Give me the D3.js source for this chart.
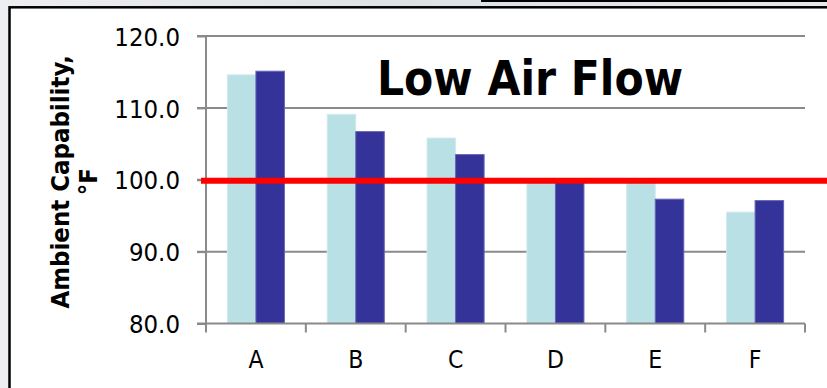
<!DOCTYPE html>
<html>
<head>
<meta charset="utf-8">
<script src="https://cdn.jsdelivr.net/npm/d3@7"></script>
<style>
  html, body { margin: 0; padding: 0; background: #e3e5e9; }
  svg { display: block; }
  text { font-family: "DejaVu Sans Condensed", "DejaVu Sans", sans-serif; font-stretch: condensed; }
</style>
</head>
<body>
<svg id="chart" width="827" height="388"></svg>
<script>
// Ambient capability by unit, two test conditions per unit
const categories = ["A", "B", "C", "D", "E", "F"];
const seriesNames = ["Condition 1", "Condition 2"];
const condition1 = [114.6, 109.1, 105.8, 100.0, 99.8, 95.5];
const condition2 = [115.1, 106.7, 103.5, 99.9, 97.3, 97.1];
const yTicks = [80, 90, 100, 110, 120];
const threshold = 100;
const title = "Low Air Flow";
const yTitleLines = ["Ambient Capability,", "°F"];

const colors = ["#b9e0e4", "#333399"];
const strokes = ["#d2eaed", "#6464b8"];

const W = 827, H = 388;
const plot = { left: 206, right: 805, top: 36, bottom: 323.5 };

const svg = d3.select("#chart");

// page background outside the chart panel
const bgGrad = svg.append("defs").append("linearGradient")
  .attr("id", "bgfade").attr("x1", 0).attr("y1", 0).attr("x2", 1).attr("y2", 0);
bgGrad.append("stop").attr("offset", "0%").attr("stop-color", "#eceef1");
bgGrad.append("stop").attr("offset", "50%").attr("stop-color", "#dde0e5");
bgGrad.append("stop").attr("offset", "100%").attr("stop-color", "#e6e8eb");
svg.append("rect").attr("width", W).attr("height", H).attr("fill", "url(#bgfade)");

// neighbouring panel peeking in at the top right
svg.append("rect")
  .attr("x", 482).attr("y", -20).attr("width", 360).attr("height", 21)
  .attr("fill", "#ffffff").attr("stroke", "#000").attr("stroke-width", 2);

// chart panel
svg.append("rect")
  .attr("x", 9.5).attr("y", 7.3).attr("width", 840).attr("height", 400)
  .attr("fill", "#ffffff").attr("stroke", "#000").attr("stroke-width", 2.5);

const x0 = d3.scaleBand().domain(categories).range([plot.left, plot.right]).padding(0);
const x1 = d3.scaleBand().domain(seriesNames).range([0, x0.bandwidth()])
  .paddingInner(0).paddingOuter(0.75);
const y = d3.scaleLinear().domain([80, 120]).range([plot.bottom, plot.top]);

const gridColor = "#8a8a8a";

// horizontal gridlines with left tick stubs
svg.append("g")
  .selectAll("line")
  .data(yTicks.filter(t => t !== 80))
  .join("line")
  .attr("x1", plot.left - 9).attr("x2", plot.right)
  .attr("y1", d => y(d)).attr("y2", d => y(d))
  .attr("stroke", gridColor).attr("stroke-width", 2);

// bars
const groups = svg.append("g")
  .selectAll("g")
  .data(categories.map((c, i) => ({ c, vals: [condition1[i], condition2[i]] })))
  .join("g")
  .attr("transform", d => `translate(${x0(d.c)},0)`);

groups.selectAll("rect")
  .data(d => d.vals.map((v, k) => ({ v, k })))
  .join("rect")
  .attr("x", d => x1(seriesNames[d.k]))
  .attr("width", x1.bandwidth())
  .attr("y", d => y(d.v))
  .attr("height", d => y(80) - y(d.v))
  .attr("fill", d => colors[d.k])
  .attr("stroke", d => strokes[d.k])
  .attr("stroke-width", 1);

// y axis
const yAxis = d3.axisLeft(y).tickValues(yTicks).tickFormat(d3.format(".1f"))
  .tickSize(9).tickPadding(17);
const gy = svg.append("g").attr("transform", `translate(${plot.left},0)`).call(yAxis);
gy.attr("font-family", null);
gy.select(".domain").attr("stroke", gridColor).attr("stroke-width", 2)
  .attr("d", `M0,${plot.top}V${plot.bottom}`);
gy.selectAll(".tick line").attr("stroke", gridColor).attr("stroke-width", 2);
gy.selectAll(".tick text")
  .attr("font-size", 25.5)
  .attr("fill", "#000").attr("dy", "0.36em");

// x axis with boundary ticks between categories
const boundaries = categories.map(c => x0(c)).concat([plot.right]);
const gx = svg.append("g");
gx.append("line")
  .attr("x1", plot.left - 9).attr("x2", plot.right)
  .attr("y1", y(80)).attr("y2", y(80))
  .attr("stroke", gridColor).attr("stroke-width", 2);
gx.selectAll("line.b")
  .data(boundaries)
  .join("line").attr("class", "b")
  .attr("x1", d => d).attr("x2", d => d)
  .attr("y1", y(80)).attr("y2", y(80) + 9)
  .attr("stroke", gridColor).attr("stroke-width", 2);
gx.selectAll("text")
  .data(categories)
  .join("text")
  .attr("x", d => x0(d) + x0.bandwidth() / 2)
  .attr("y", 367.5)
  .attr("text-anchor", "middle")
  .attr("font-size", 24.5)
  .attr("fill", "#000")
  .text(d => d);

// reference line at the threshold
svg.append("line")
  .attr("x1", plot.left - 5).attr("x2", W)
  .attr("y1", y(threshold) + 1).attr("y2", y(threshold) + 1)
  .attr("stroke", "#ff0000").attr("stroke-width", 6);

// chart title
svg.append("text")
  .attr("x", 377).attr("y", 95)
  .attr("font-weight", "bold")
  .attr("font-size", 48)
  .attr("textLength", 306).attr("lengthAdjust", "spacingAndGlyphs")
  .attr("fill", "#000")
  .text(title);

// y axis title, two lines rotated
const yt = svg.append("text")
  .attr("transform", `translate(69,${(plot.top + plot.bottom) / 2 + 2}) rotate(-90)`)
  .attr("text-anchor", "middle")
  .attr("font-weight", "bold")
  .attr("font-size", 25.5)
  .attr("fill", "#000");
yt.selectAll("tspan")
  .data(yTitleLines)
  .join("tspan")
  .attr("x", 0)
  .attr("dy", (d, i) => i === 0 ? 0 : 28)
  .text(d => d);
</script>
</body>
</html>
